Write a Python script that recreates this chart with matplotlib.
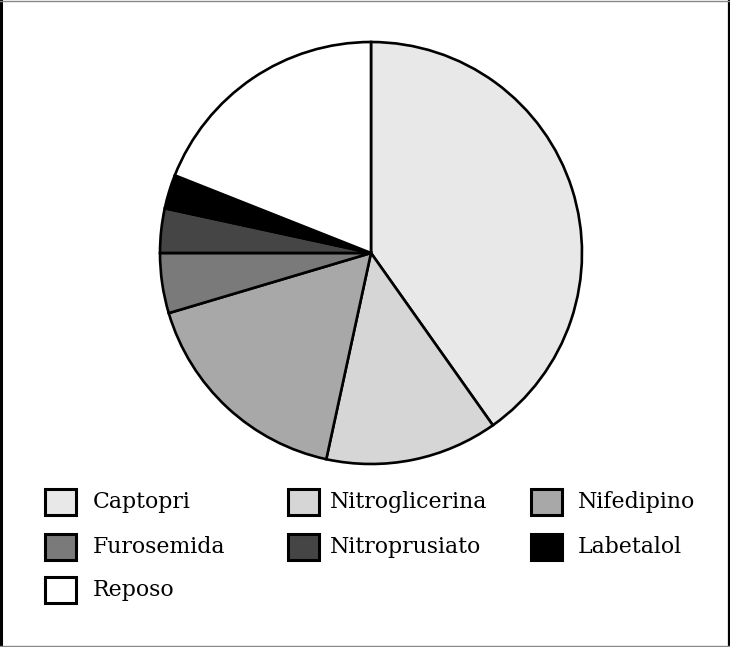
import matplotlib
matplotlib.use("Agg")
import matplotlib.pyplot as plt
from matplotlib.patches import Rectangle
from matplotlib.lines import Line2D

labels = ["Captopri", "Nitroglicerina", "Nifedipino", "Furosemida",
          "Nitroprusiato", "Labetalol", "Reposo"]
values = [40.2, 13.2, 17.0, 4.6, 3.4, 2.6, 19.0]
colors = ["#e8e8e8", "#d6d6d6", "#a8a8a8", "#7a7a7a", "#454545", "#000000", "#ffffff"]

W, H = 730, 647
fig = plt.figure(figsize=(W / 100, H / 100), dpi=100)
fig.patch.set_facecolor("white")

# pie axes: center (371,253) px, radius 211 px
cx, cy, r = 371, 253, 211
ax = fig.add_axes([(cx - r) / W, (H - cy - r) / H, 2 * r / W, 2 * r / H])
ax.pie(values, colors=colors, startangle=90, counterclock=False,
       wedgeprops=dict(edgecolor="black", linewidth=1.9))
ax.set_xlim(-1.0, 1.0)
ax.set_ylim(-1.0, 1.0)
ax.set_aspect("equal")
ax.axis("off")

# legend drawn manually in figure pixel coordinates
col_box_x = [45, 288, 531]
col_txt_x = [93, 330, 578]
row_y = [502, 547, 590]
row_base = [508, 553, 596]
bw, bh = 31, 26
for i, (lab, col) in enumerate(zip(labels, colors)):
    rr, cc = divmod(i, 3)
    bx = col_box_x[cc]
    by = row_y[rr]
    fig.patches.append(Rectangle(((bx) / W, (H - by - bh / 2) / H), bw / W, bh / H,
                                 transform=fig.transFigure, facecolor=col,
                                 edgecolor="black", linewidth=2.2))
    fig.text(col_txt_x[cc] / W, (H - row_base[rr]) / H, lab, fontsize=15.8,
             family="DejaVu Serif", va="baseline", ha="left", fontweight="light")

# outer frame: dark left/right edges, thin grey top/bottom
fig.lines.append(Line2D([0.002, 0.002], [0, 1], transform=fig.transFigure, color="black", linewidth=2.2))
fig.lines.append(Line2D([0.998, 0.998], [0, 1], transform=fig.transFigure, color="black", linewidth=1.6))
fig.lines.append(Line2D([0, 1], [0.999, 0.999], transform=fig.transFigure, color="#888888", linewidth=1.0))
fig.lines.append(Line2D([0, 1], [0.001, 0.001], transform=fig.transFigure, color="#888888", linewidth=1.0))

fig.savefig("out.png", dpi=100)
